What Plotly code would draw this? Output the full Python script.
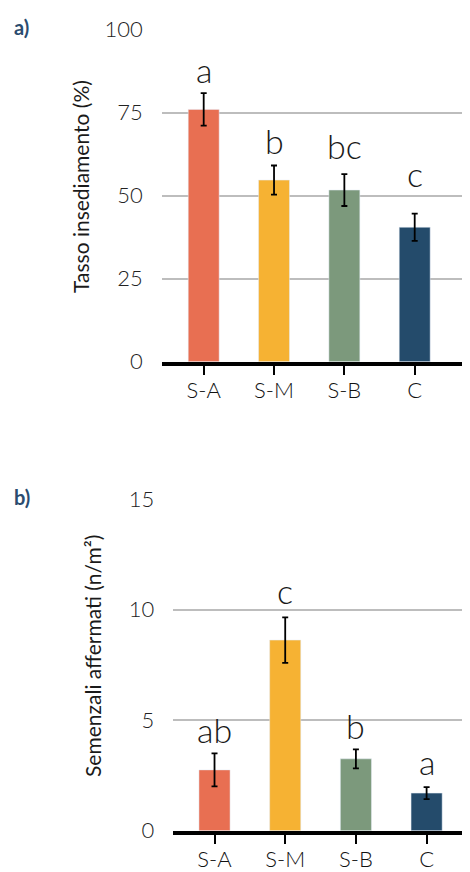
import plotly.graph_objects as go

categories = ["S-A", "S-M", "S-B", "C"]
colors = ["#E86F52", "#F6B233", "#7C997C", "#244B6B"]

tasso_values = [76.0, 54.7, 51.7, 40.5]
tasso_errors = [4.9, 4.4, 4.8, 4.1]
tasso_letters = ["a", "b", "bc", "c"]
tasso_ticks = [0, 25, 50, 75, 100]

semenzali_values = [2.75, 8.62, 3.25, 1.70]
semenzali_errors = [0.75, 1.03, 0.43, 0.27]
semenzali_letters = ["ab", "c", "b", "a"]
semenzali_ticks = [0, 5, 10, 15]

# label gaps in pixels (style)
tasso_gaps = [7, 8, 12, 24]
semenzali_gaps = [7, 10, 7, 9]

W, H = 470, 872
FONT = "Lato"
TXT = "#1a1a1a"

def ydom(top_px, bottom_px):
    return [1 - bottom_px / H, 1 - top_px / H]

fig = go.Figure()

fig.add_trace(go.Bar(
    x=categories, y=tasso_values, marker_color=colors, width=0.44,
    error_y=dict(type="data", array=tasso_errors, color="black", thickness=1.8, width=3),
    xaxis="x", yaxis="y", showlegend=False))
fig.add_trace(go.Bar(
    x=categories, y=semenzali_values, marker_color=colors, width=0.44,
    error_y=dict(type="data", array=semenzali_errors, color="black", thickness=1.8, width=3),
    xaxis="x2", yaxis="y2", showlegend=False))

common_x = dict(type="category", showgrid=False, showline=True, linecolor="black", linewidth=3.5,
                ticks="outside", ticklen=10, tickwidth=2, tickcolor="black", automargin=False,
                ticklabelstandoff=-4,
                tickfont=dict(family=FONT, size=22, color="#111", weight=300), zeroline=False, fixedrange=True)
common_y = dict(showgrid=True, gridcolor="#bdbdbd", gridwidth=1.5, showline=False, zeroline=False,
                automargin=False, ticks="", tickfont=dict(family=FONT, size=22, color="#222", weight=300),
                ticklabelstandoff=18)

fig.update_layout(
    width=W, height=H, margin=dict(l=0, r=0, t=0, b=0, autoexpand=False),
    plot_bgcolor="white", paper_bgcolor="white", bargap=0.5,
    xaxis=dict(common_x, domain=[153.7 / W, 1], range=[-0.597, 3.90], anchor="y"),
    yaxis=dict(common_y, domain=ydom(21.7, 353.7), range=[0, 100], tickvals=tasso_ticks, anchor="x"),
    xaxis2=dict(common_x, domain=[165.3 / W, 1], range=[-0.583, 3.727], anchor="y2"),
    yaxis2=dict(common_y, domain=ydom(491, 822.7), range=[0, 15], tickvals=semenzali_ticks, anchor="x2"),
)

ann = []
for c, v, e, t, g in zip(categories, tasso_values, tasso_errors, tasso_letters, tasso_gaps):
    ann.append(dict(x=c, y=v + e, xref="x", yref="y", text=t, showarrow=False, yanchor="bottom",
                    yshift=g - 6, font=dict(family=FONT, size=34, color=TXT, weight=300)))
for c, v, e, t, g in zip(categories, semenzali_values, semenzali_errors, semenzali_letters, semenzali_gaps):
    ann.append(dict(x=c, y=v + e, xref="x2", yref="y2", text=t, showarrow=False, yanchor="bottom",
                    yshift=g - 6, font=dict(family=FONT, size=34, color=TXT, weight=300)))

ann.append(dict(x=72 / W, y=1 - 179 / H, xref="paper", yref="paper", text="Tasso insediamento (%)",
                textangle=-90, showarrow=False, xanchor="center", yanchor="middle",
                font=dict(family=FONT, size=21, color=TXT)))
ann.append(dict(x=84 / W, y=1 - 648 / H, xref="paper", yref="paper", text="Semenzali affermati (n/m²)",
                textangle=-90, showarrow=False, xanchor="center", yanchor="middle",
                font=dict(family=FONT, size=21, color=TXT)))
ann.append(dict(x=4 / W, y=1 - 19 / H, xref="paper", yref="paper", text="<b>a)</b>", xanchor="left",
                yanchor="middle", showarrow=False, font=dict(family=FONT, size=20, color="#2B4C6F")))
ann.append(dict(x=4 / W, y=1 - 489 / H, xref="paper", yref="paper", text="<b>b)</b>", xanchor="left",
                yanchor="middle", showarrow=False, font=dict(family=FONT, size=20, color="#2B4C6F")))
fig.update_layout(annotations=ann)

fig.write_html("out.html")
